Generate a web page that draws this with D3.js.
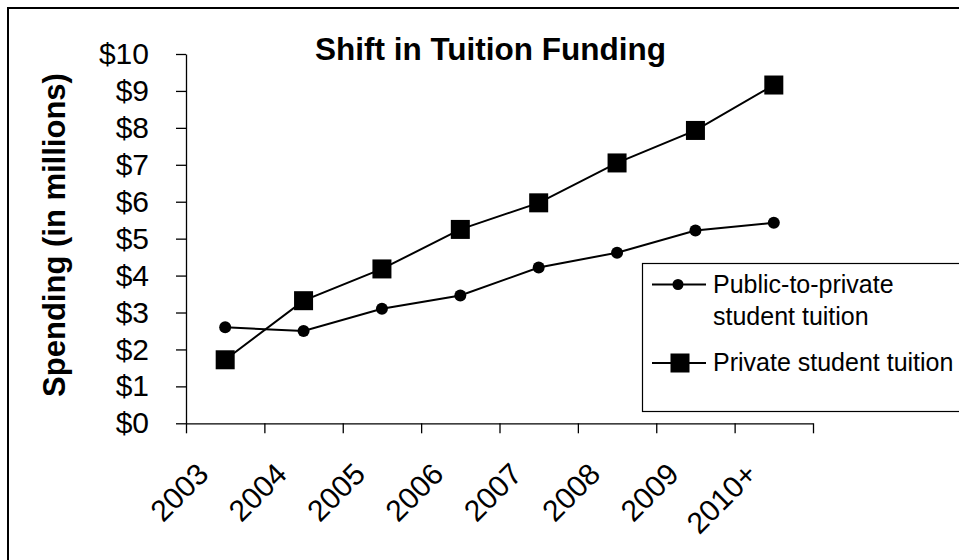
<!DOCTYPE html>
<html>
<head>
<meta charset="utf-8">
<script src="https://cdnjs.cloudflare.com/ajax/libs/d3/7.8.5/d3.min.js"></script>
<style>
  body { margin: 0; background: #fff; }
  svg { display: block; font-family: "Liberation Sans", Arial, sans-serif; }
</style>
</head>
<body>
<svg id="chart" width="959" height="560"></svg>
<script>
// data
const years = ["2003", "2004", "2005", "2006", "2007", "2008", "2009", "2010+"];
const publicToPrivate = [2.6, 2.5, 3.1, 3.46, 4.22, 4.62, 5.22, 5.43];
const privateTuition = [1.72, 3.32, 4.18, 5.25, 5.97, 7.05, 7.93, 9.16];
const yTicks = [0, 1, 2, 3, 4, 5, 6, 7, 8, 9, 10];

const svg = d3.select("#chart");

// outer frame (only top and left edges visible)
svg.append("path")
  .attr("d", "M8,561V8H960")
  .attr("fill", "none")
  .attr("stroke", "#000")
  .attr("stroke-width", 2);

const plotLeft = 186, plotRight = 813, plotTop = 54, plotBottom = 423.3;

const x = d3.scaleBand().domain(years).range([plotLeft, plotRight]);
const xEdge = d3.scaleLinear().domain([0, years.length]).range([plotLeft, plotRight]);
const y = d3.scaleLinear().domain([0, 10]).range([plotBottom, plotTop]);

// y axis
const yAxis = svg.append("g")
  .attr("transform", `translate(${plotLeft},0)`)
  .call(d3.axisLeft(y)
    .tickValues(yTicks)
    .tickFormat(d => "$" + d)
    .tickSize(10)
    .tickSizeOuter(0)
    .tickPadding(27));
yAxis.selectAll("text")
  .attr("font-size", 30)
  .attr("font-family", "Liberation Sans, Arial, sans-serif")
  .attr("fill", "#000");

// x axis, ticks at the category edges
const xAxis = svg.append("g")
  .attr("transform", `translate(0,${plotBottom})`)
  .call(d3.axisBottom(xEdge)
    .ticks(years.length)
    .tickFormat("")
    .tickSize(10)
    .tickSizeOuter(0));

svg.selectAll(".domain, .tick line")
  .attr("stroke", "#000")
  .attr("stroke-width", 1.3);

// rotated year labels
svg.append("g")
  .selectAll("text")
  .data(years)
  .join("text")
  .attr("transform", d => `translate(${x(d) + x.bandwidth() / 2 - 15},476) rotate(-45)`)
  .attr("text-anchor", "end")
  .attr("font-size", 30)
  .attr("fill", "#000")
  .text(d => d);

// title
svg.append("text")
  .attr("x", 490.5)
  .attr("y", 60)
  .attr("text-anchor", "middle")
  .attr("font-size", 31.5)
  .attr("font-weight", "bold")
  .text("Shift in Tuition Funding");

// y axis title
svg.append("text")
  .attr("transform", "translate(65,235) rotate(-90)")
  .attr("text-anchor", "middle")
  .attr("font-size", 31)
  .attr("font-weight", "bold")
  .text("Spending (in millions)");

const cx = (d, i) => x(years[i]) + x.bandwidth() / 2;
const line = d3.line().x(cx).y(d => y(d));

// private student tuition
svg.append("path")
  .datum(privateTuition)
  .attr("d", line)
  .attr("fill", "none")
  .attr("stroke", "#000")
  .attr("stroke-width", 2);
svg.append("g")
  .selectAll("rect")
  .data(privateTuition)
  .join("rect")
  .attr("x", (d, i) => cx(d, i) - 9.5)
  .attr("y", d => y(d) - 9.5)
  .attr("width", 19)
  .attr("height", 19)
  .attr("fill", "#000");

// public-to-private student tuition
svg.append("path")
  .datum(publicToPrivate)
  .attr("d", line)
  .attr("fill", "none")
  .attr("stroke", "#000")
  .attr("stroke-width", 2);
svg.append("g")
  .selectAll("circle")
  .data(publicToPrivate)
  .join("circle")
  .attr("cx", cx)
  .attr("cy", d => y(d))
  .attr("r", 6)
  .attr("fill", "#000");

// legend
const legend = svg.append("g");
legend.append("rect")
  .attr("x", 642.5)
  .attr("y", 263.5)
  .attr("width", 400)
  .attr("height", 148)
  .attr("fill", "#fff")
  .attr("stroke", "#000")
  .attr("stroke-width", 1.2);

legend.append("line")
  .attr("x1", 652).attr("x2", 706)
  .attr("y1", 284.5).attr("y2", 284.5)
  .attr("stroke", "#000").attr("stroke-width", 2);
legend.append("circle")
  .attr("cx", 678).attr("cy", 284.5).attr("r", 5.5)
  .attr("fill", "#000");
legend.append("text")
  .attr("x", 713).attr("y", 293)
  .attr("font-size", 25)
  .text("Public-to-private");
legend.append("text")
  .attr("x", 713).attr("y", 325)
  .attr("font-size", 25)
  .text("student tuition");

legend.append("line")
  .attr("x1", 652).attr("x2", 706)
  .attr("y1", 363).attr("y2", 363)
  .attr("stroke", "#000").attr("stroke-width", 2);
legend.append("rect")
  .attr("x", 670.5).attr("y", 353.5)
  .attr("width", 19).attr("height", 19)
  .attr("fill", "#000");
legend.append("text")
  .attr("x", 713).attr("y", 371)
  .attr("font-size", 25)
  .text("Private student tuition");
</script>
</body>
</html>
